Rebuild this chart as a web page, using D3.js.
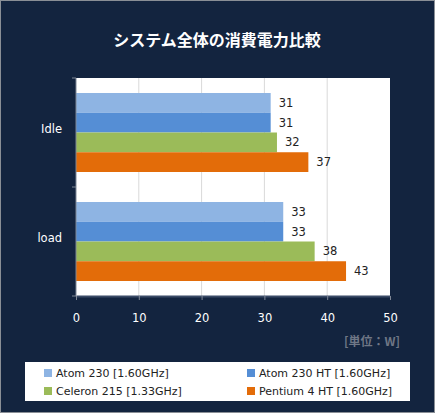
<!DOCTYPE html>
<html>
<head>
<meta charset="utf-8">
<script src="https://cdn.jsdelivr.net/npm/d3@7"></script>
<style>
  body { margin: 0; background: #fff; }
  text { font-family: "DejaVu Sans", "Noto Sans CJK JP", sans-serif; }
  text.jp { font-family: "Noto Sans CJK JP", sans-serif; }
</style>
</head>
<body>
<div id="chart"></div>
<script>
var categories = ["Idle", "load"]
var seriesNames = ["Atom 230 [1.60GHz]", "Atom 230 HT [1.60GHz]", "Celeron 215 [1.33GHz]", "Pentium 4 HT [1.60GHz]"]
var seriesColors = ["#8EB4E3", "#558ED5", "#9BBB59", "#E36C09"]
var idleValues = [31, 31, 32, 37]
var loadValues = [33, 33, 38, 43]
var xTicks = [0, 10, 20, 30, 40, 50]

var data = categories.map(function(c, i) {
    var vals = i == 0 ? idleValues : loadValues
    return { cat: c, values: seriesNames.map(function(s, j) { return { key: s, value: vals[j] } }) }
})

var svg = d3.select("#chart")
    .append("svg")
        .attr("width", 435)
        .attr("height", 413)

svg.append("rect")
    .attr("x", 0.5).attr("y", 0.5)
    .attr("width", 434).attr("height", 412)
    .attr("fill", "#13243F")
    .attr("stroke", "#8A8F96")

svg.append("text")
    .attr("class", "jp")
    .attr("x", 217)
    .attr("y", 46)
    .attr("text-anchor", "middle")
    .attr("fill", "#fff")
    .style("font-size", "16px")
    .style("font-weight", "bold")
    .text("システム全体の消費電力比較")

var plotL = 76, plotR = 390, plotT = 78, plotB = 296

var x = d3.scaleLinear()
    .domain([0, 50])
    .range([plotL, plotR])

var y = d3.scaleBand()
    .domain(categories)
    .range([plotT, plotB])
    .paddingInner(0)

var inner = d3.scaleBand()
    .domain(seriesNames)
    .range([15, y.bandwidth() - 15])

svg.append("rect")
    .attr("x", plotL).attr("y", plotT)
    .attr("width", plotR - plotL).attr("height", plotB - plotT)
    .attr("fill", "#fff")

svg.append("g")
    .selectAll("line")
    .data(xTicks.slice(1, -1))
    .join("line")
        .attr("x1", function(d) { return x(d) }).attr("x2", function(d) { return x(d) })
        .attr("y1", plotT).attr("y2", plotB)
        .attr("stroke", "#D9D9D9")

var groups = svg.append("g")
    .selectAll("g")
    .data(data)
    .join("g")
        .attr("transform", function(d) { return "translate(0," + y(d.cat) + ")" })

groups.selectAll("rect")
    .data(function(d) { return d.values })
    .join("rect")
        .attr("x", x(0))
        .attr("y", function(d) { return inner(d.key) })
        .attr("width", function(d) { return x(d.value) - x(0) })
        .attr("height", inner.bandwidth())
        .attr("fill", function(d, i) { return seriesColors[i] })

groups.selectAll("text")
    .data(function(d) { return d.values })
    .join("text")
        .attr("x", function(d) { return x(d.value) + 8 })
        .attr("y", function(d) { return inner(d.key) + inner.bandwidth() / 2 })
        .attr("dy", "0.35em")
        .attr("fill", "#222")
        .style("font-size", "11.5px")
        .text(function(d) { return d.value })

// axes
var xAxis = svg.append("g")
    .attr("transform", "translate(0," + plotB + ")")
    .call(d3.axisBottom(x).tickValues(xTicks).tickSize(4).tickPadding(14).tickSizeOuter(0))
xAxis.select(".domain").attr("stroke", "#3A4A66").attr("stroke-width", 2)
xAxis.selectAll(".tick line").attr("stroke", "#7F8796")
xAxis.selectAll("text").attr("fill", "#fff").style("font-size", "11.5px").style("font-family", "DejaVu Sans")

var yAxis = svg.append("g")
yAxis.append("line")
    .attr("x1", plotL).attr("x2", plotL)
    .attr("y1", plotT).attr("y2", plotB)
    .attr("stroke", "#7F8796")
yAxis.selectAll("line.t")
    .data([plotT, y("load"), plotB])
    .join("line")
        .attr("class", "t")
        .attr("x1", plotL - 4).attr("x2", plotL)
        .attr("y1", function(d) { return d }).attr("y2", function(d) { return d })
        .attr("stroke", "#7F8796")
yAxis.selectAll("text")
    .data(categories)
    .join("text")
        .attr("x", plotL - 14)
        .attr("y", function(d) { return y(d) + y.bandwidth() / 2 - 4 })
        .attr("dy", "0.35em")
        .attr("text-anchor", "end")
        .attr("fill", "#fff")
        .style("font-size", "11.5px")
        .text(function(d) { return d })

svg.append("text")
    .attr("class", "jp")
    .attr("x", 400)
    .attr("y", 346)
    .attr("text-anchor", "end")
    .attr("fill", "#6F7786")
    .style("font-size", "12px")
    .style("font-weight", "bold")
    .text("[単位：W]")

// legend
svg.append("rect")
    .attr("x", 25).attr("y", 362)
    .attr("width", 385).attr("height", 39)
    .attr("fill", "#fff")

var legend = svg.append("g")
    .selectAll("g")
    .data(seriesNames)
    .join("g")
        .attr("transform", function(d, i) {
            return "translate(" + (i % 2 == 0 ? 44 : 247) + "," + (i < 2 ? 373 : 391) + ")"
        })
legend.append("rect")
    .attr("x", 0).attr("y", -4)
    .attr("width", 8).attr("height", 8)
    .attr("fill", function(d, i) { return seriesColors[i] })
legend.append("text")
    .attr("x", 12)
    .attr("dy", "0.35em")
    .attr("fill", "#222")
    .style("font-size", "11px")
    .text(function(d) { return d })
</script>
</body>
</html>
